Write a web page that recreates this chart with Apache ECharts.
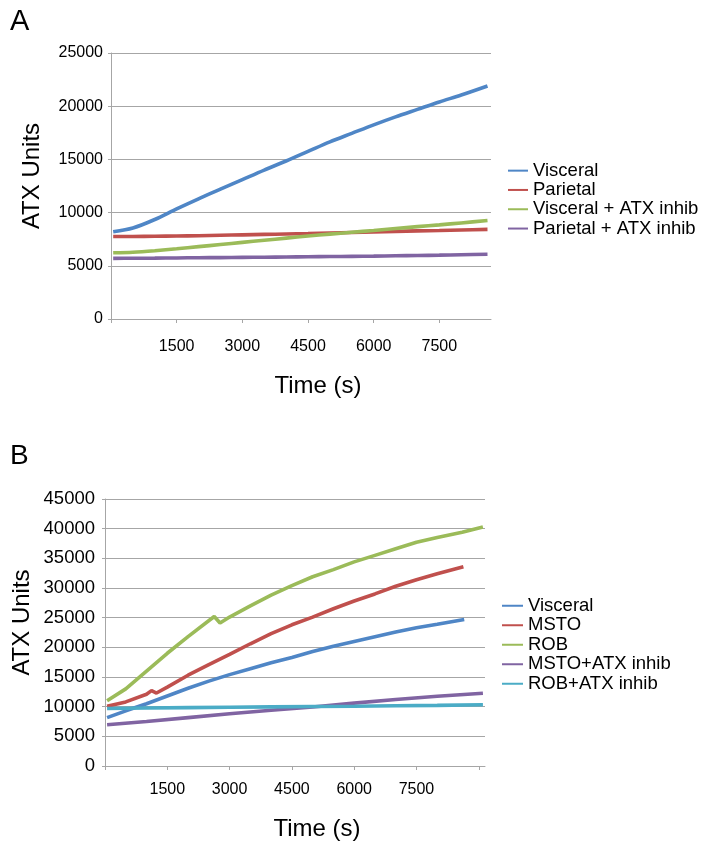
<!DOCTYPE html>
<html>
<head>
<meta charset="utf-8">
<script src="https://cdn.jsdelivr.net/npm/echarts@6/dist/echarts.min.js"></script>
<style>html,body{margin:0;padding:0;background:#fff}#c{width:706px;height:848px}</style>
</head>
<body>
<div id="c"></div>
<script>
// ---- Panel A data ----
const aTime = [50, 500, 1000, 1500, 2000, 2500, 3000, 3500, 4000, 4500, 5000, 5500, 6000, 6500, 7000, 7500, 8000, 8600];
const aVisceral = [8200, 8550, 9350, 10350, 11300, 12200, 13100, 14000, 14850, 15750, 16650, 17450, 18250, 19000, 19700, 20400, 21050, 21900];
const aParietal = [7750, 7760, 7780, 7800, 7830, 7870, 7910, 7950, 7990, 8030, 8080, 8130, 8180, 8230, 8280, 8320, 8370, 8420];
const aVisceralInhib = [6230, 6280, 6420, 6600, 6800, 7000, 7200, 7400, 7600, 7800, 7980, 8150, 8320, 8500, 8680, 8850, 9030, 9250];
const aParietalInhib = [5700, 5710, 5720, 5740, 5760, 5770, 5790, 5810, 5830, 5850, 5870, 5890, 5910, 5940, 5970, 6000, 6040, 6080];
const aNames = ['Visceral', 'Parietal', 'Visceral + ATX inhib', 'Parietal + ATX inhib'];
const aTickLabels = [1500, 3000, 4500, 6000, 7500];

// ---- Panel B data ----
const bTimeVisceral = [50, 500, 1000, 1500, 2000, 2500, 3000, 3500, 4000, 4500, 5000, 5500, 6000, 6500, 7000, 7500, 8000, 8650];
const bVisceral = [8150, 9300, 10500, 11800, 13100, 14300, 15400, 16400, 17400, 18300, 19300, 20200, 21000, 21800, 22600, 23300, 23900, 24700];
const bTimeMsto = [50, 500, 1000, 1120, 1240, 1500, 2000, 2500, 3000, 3500, 4000, 4500, 5000, 5500, 6000, 6500, 7000, 7500, 8000, 8630];
const bMsto = [10050, 10800, 12100, 12700, 12300, 13300, 15300, 17100, 18800, 20600, 22300, 23800, 25100, 26500, 27800, 29000, 30300, 31400, 32400, 33600];
const bTimeRob = [50, 500, 1000, 1500, 2000, 2630, 2770, 3000, 3500, 4000, 4500, 5000, 5500, 6000, 6500, 7000, 7500, 8000, 8600, 9100];
const bRob = [11000, 13000, 16000, 19000, 21800, 25200, 24100, 25100, 27000, 28800, 30400, 31900, 33100, 34400, 35500, 36600, 37700, 38500, 39400, 40300];
const bTimeInhib = [50, 1000, 2000, 3000, 4000, 5000, 6000, 7000, 8000, 9100];
const bMstoInhib = [6950, 7500, 8150, 8800, 9400, 9950, 10600, 11200, 11750, 12250];
const bRobInhib = [9700, 9780, 9840, 9900, 9960, 10020, 10080, 10150, 10220, 10320];
const bNames = ['Visceral', 'MSTO', 'ROB', 'MSTO+ATX inhib', 'ROB+ATX inhib'];
const bTickLabels = [1500, 3000, 4500, 6000, 7500];

const FONT = 'Liberation Sans, Arial, Helvetica, sans-serif';
const C = { blue: '#4f86c6', red: '#c0504d', green: '#9bbb59', purple: '#8064a2', cyan: '#4bacc6' };
const GRAY = '#a6a6a6';

function pairs(xs, ys) { return xs.map((t, i) => [t, ys[i]]); }
function line(name, xi, yi, xs, ys, color, smooth) {
  return {
    name: name, type: 'line', xAxisIndex: xi, yAxisIndex: yi,
    data: pairs(xs, ys), showSymbol: false, symbol: 'none',
    lineStyle: { width: 3.6, color: color }, itemStyle: { color: color },
    smooth: smooth, animation: false
  };
}
function xAxis(gi, max, labels, tickVals, nameMargin, namePad, labelMargin) {
  return {
    gridIndex: gi, type: 'value', min: 0, max: max, interval: 1500,
    name: 'Time (s)', nameLocation: 'middle', nameGap: nameMargin,
    nameTextStyle: { fontFamily: FONT, fontSize: 24, color: '#000', padding: namePad },
    axisLine: { show: true, lineStyle: { color: GRAY, width: 1 } },
    axisTick: { show: true, length: 4, lineStyle: { color: GRAY }, customValues: tickVals },
    axisLabel: { fontFamily: FONT, fontSize: 16, color: '#000', margin: labelMargin,
      customValues: labels,
      formatter: v => (labels.indexOf(v) >= 0 ? String(v) : '') },
    splitLine: { show: false }
  };
}
function yAxis(gi, max, fs, nameGap, namePad, labelMargin) {
  return {
    gridIndex: gi, type: 'value', min: 0, max: max, interval: 5000,
    name: 'ATX Units', nameLocation: 'middle', nameGap: nameGap, nameRotate: 90,
    nameMoveOverlap: false,
    nameTextStyle: { fontFamily: FONT, fontSize: 24, color: '#000', padding: namePad },
    axisLine: { show: true, lineStyle: { color: GRAY, width: 1 } },
    axisTick: { show: true, length: 3, lineStyle: { color: GRAY } },
    axisLabel: { fontFamily: FONT, fontSize: fs, color: '#000', margin: labelMargin,
      formatter: v => String(v) },
    splitLine: { show: true, lineStyle: { color: GRAY, width: 1 } }
  };
}

const chart = echarts.init(document.getElementById('c'), null, { renderer: 'canvas' });
chart.setOption({
  backgroundColor: '#fff',
  animation: false,
  title: [
    { text: 'A', left: 5, top: 2, textStyle: { fontFamily: FONT, fontSize: 29, fontWeight: 'normal', color: '#000' } },
    { text: 'B', left: 5, top: 437, textStyle: { fontFamily: FONT, fontSize: 28, fontWeight: 'normal', color: '#000' } }
  ],
  grid: [
    { left: 111, top: 53, width: 380, height: 266 },
    { left: 105, top: 499, width: 380, height: 267 }
  ],
  xAxis: [
    xAxis(0, 8680, aTickLabels, [0, 1500, 3000, 4500, 6000, 7500], 55, [0, 0, 0, 34], 20),
    xAxis(1, 9150, bTickLabels, [0, 1500, 3000, 4500, 6000, 7500, 9000], 51, [0, 0, 0, 44], 16)
  ],
  yAxis: [
    yAxis(0, 25000, 16, 67, [0, 0, 0, 20], 8),
    yAxis(1, 45000, 18.5, 71, [0, 0, 0, 20], 10)
  ],
  legend: [
    { data: aNames, orient: 'vertical', left: 503, top: 156, itemWidth: 20, itemHeight: 2, itemGap: 0, icon: 'rect',
      textStyle: { fontFamily: FONT, fontSize: 18.5, color: '#000', lineHeight: 19.3 } },
    { data: bNames, orient: 'vertical', left: 497, top: 591, itemWidth: 21, itemHeight: 2, itemGap: 0, icon: 'rect',
      textStyle: { fontFamily: FONT, fontSize: 18.5, color: '#000', lineHeight: 19.5 } }
  ],
  series: [
    line('Visceral', 0, 0, aTime, aVisceral, C.blue, 0.3),
    line('Parietal', 0, 0, aTime, aParietal, C.red, 0.3),
    line('Visceral + ATX inhib', 0, 0, aTime, aVisceralInhib, C.green, 0.3),
    line('Parietal + ATX inhib', 0, 0, aTime, aParietalInhib, C.purple, 0.3),
    line('Visceral', 1, 1, bTimeVisceral, bVisceral, C.blue, false),
    line('MSTO', 1, 1, bTimeMsto, bMsto, C.red, false),
    line('ROB', 1, 1, bTimeRob, bRob, C.green, false),
    line('MSTO+ATX inhib', 1, 1, bTimeInhib, bMstoInhib, C.purple, false),
    line('ROB+ATX inhib', 1, 1, bTimeInhib, bRobInhib, C.cyan, false)
  ]
});
</script>
</body>
</html>
